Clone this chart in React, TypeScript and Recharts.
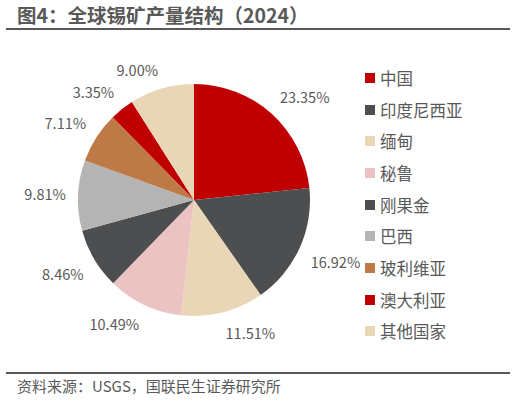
import React from "react";
import { PieChart, Pie, Cell } from "recharts";

const countries = ["中国", "印度尼西亚", "缅甸", "秘鲁", "刚果金", "巴西", "玻利维亚", "澳大利亚", "其他国家"];
const shares = [23.35, 16.92, 11.51, 10.49, 8.46, 9.81, 7.11, 3.35, 9.0];
const colors = ["#C00000", "#4D4E50", "#E8D6B6", "#EBC3C3", "#4D4E50", "#B4B4B4", "#BE7A46", "#C00000", "#E8D6B6"];

const data = countries.map((name, i) => ({ name, value: shares[i] }));

const FONT = '"Noto Sans CJK SC", "Noto Sans", sans-serif';
const TEXT = "#595959";
const RADIAN = Math.PI / 180;

const clamp = (v: number) => Math.max(-1, Math.min(1, v));

const renderLabel = (props: any) => {
  const { cx, cy, midAngle, outerRadius, value } = props;
  const txt = `${Number(value).toFixed(2)}%`;
  const dx = Math.cos(-midAngle * RADIAN);
  const dy = Math.sin(-midAngle * RADIAN);
  const halfW = txt.length * 4 + 1;
  const halfH = 8;
  const r = outerRadius + 12;
  const x = cx + r * dx + clamp(dx * 4) * halfW;
  const y = cy + r * dy + clamp(dy * 4) * halfH;
  return (
    <text x={x} y={y} fill={TEXT} fontSize={14.5} fontFamily={FONT} textAnchor="middle" dominantBaseline="central">
      {txt}
    </text>
  );
};

export default function App() {
  return (
    <div style={{ position: "absolute", left: 0, top: 0, width: 516, height: 401, background: "#fff", fontFamily: FONT }}>
      <div style={{ position: "absolute", left: 17, top: 2, fontSize: 19.5, fontWeight: 700, color: TEXT, lineHeight: "26px", whiteSpace: "nowrap" }}>
        图4：全球锡矿产量结构（2024）
      </div>
      <div style={{ position: "absolute", left: 6, top: 28, width: 504, height: 2, background: "#595959" }} />
      <div style={{ position: "absolute", left: 0, top: 0 }}>
        <PieChart width={516} height={401} margin={{ top: 0, right: 0, bottom: 0, left: 0 }}>
          <Pie
            data={data}
            dataKey="value"
            nameKey="name"
            cx={194}
            cy={200}
            outerRadius={116}
            startAngle={90}
            endAngle={-270}
            stroke="none"
            label={renderLabel}
            labelLine={false}
            isAnimationActive={false}
          >
            {data.map((d, i) => (
              <Cell key={d.name} fill={colors[i]} />
            ))}
          </Pie>
        </PieChart>
      </div>
      <div style={{ position: "absolute", left: 365, top: 62, width: 150 }}>
        {countries.map((c, i) => (
          <div key={c} style={{ display: "flex", alignItems: "center", height: 31.7 }}>
            <span style={{ display: "inline-block", width: 10, height: 10, background: colors[i], marginRight: 5 }} />
            <span style={{ fontSize: 16.5, color: TEXT, lineHeight: "20px" }}>{c}</span>
          </div>
        ))}
      </div>
      <div style={{ position: "absolute", left: 6, top: 372, width: 504, height: 2, background: "#595959" }} />
      <div style={{ position: "absolute", left: 17, top: 376, fontSize: 15, color: TEXT, lineHeight: "20px", whiteSpace: "nowrap" }}>
        资料来源：USGS，国联民生证券研究所
      </div>
    </div>
  );
}
